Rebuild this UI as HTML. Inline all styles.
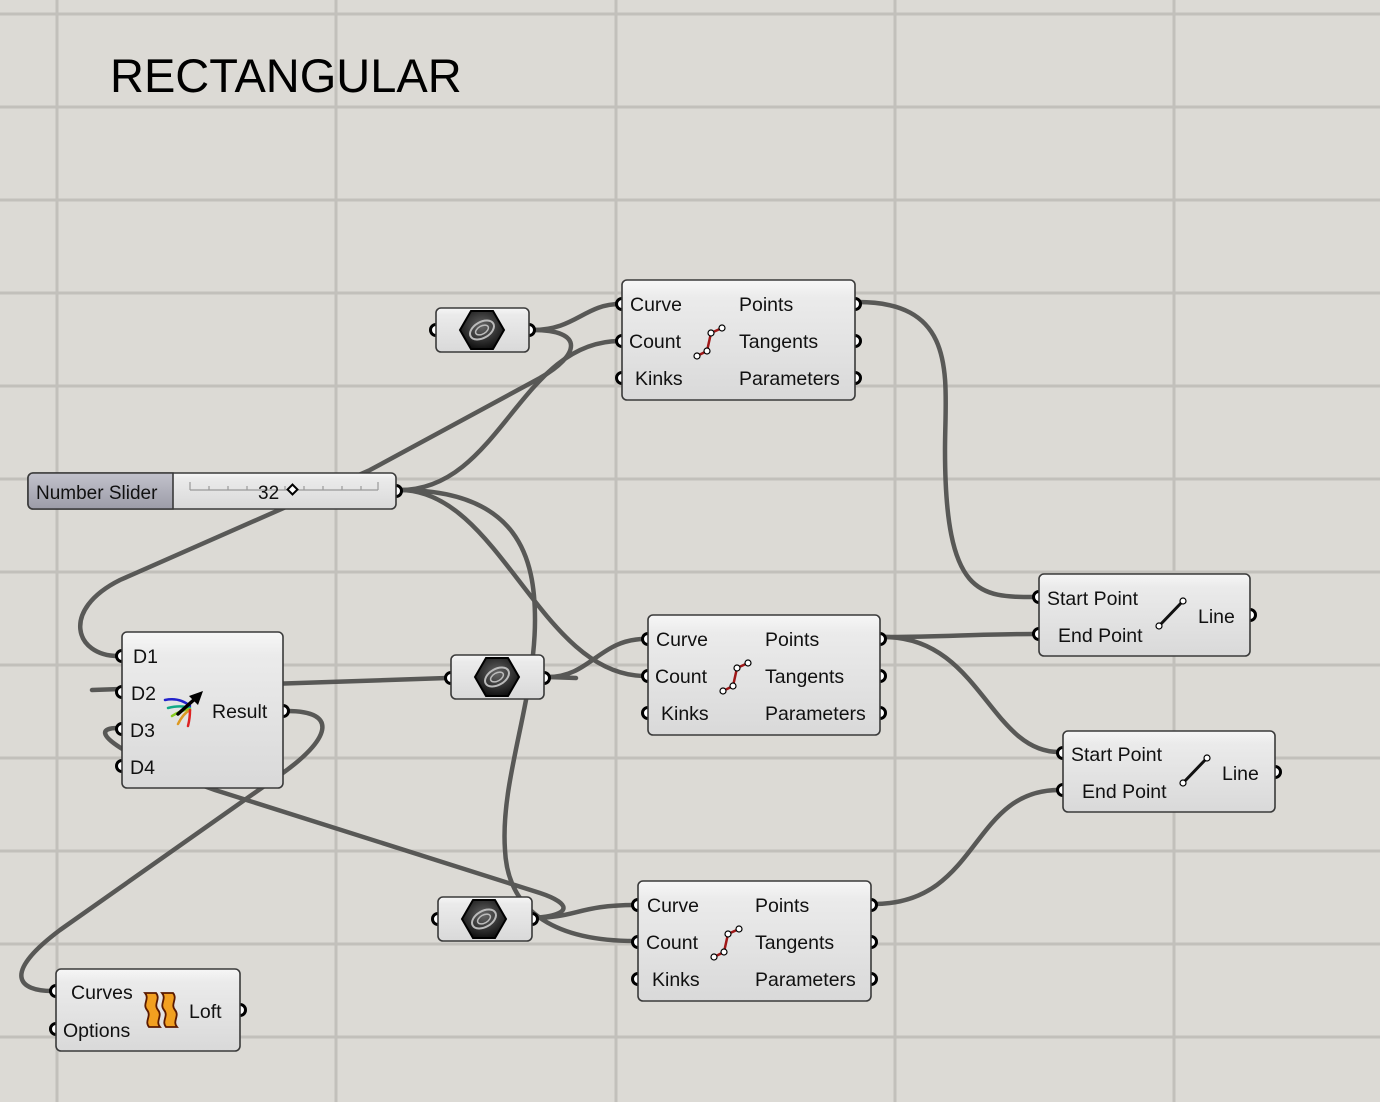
<!DOCTYPE html>
<html><head><meta charset="utf-8"><style>
html,body{margin:0;padding:0;background:#dcdad5;}
svg{display:block;font-family:"Liberation Sans",Arial,sans-serif;}
</style></head><body>
<svg width="1380" height="1102" viewBox="0 0 1380 1102" xmlns="http://www.w3.org/2000/svg">
<defs>
<linearGradient id="cg" x1="0" y1="0" x2="0" y2="1">
<stop offset="0" stop-color="#f7f7f7"/><stop offset="0.15" stop-color="#ebebeb"/><stop offset="1" stop-color="#d9d9d9"/>
</linearGradient>
<linearGradient id="sg" x1="0" y1="0" x2="0" y2="1">
<stop offset="0" stop-color="#c2c2cc"/><stop offset="1" stop-color="#9c9ca8"/>
</linearGradient>
<radialGradient id="hx" cx="0.5" cy="0.4" r="0.6"><stop offset="0" stop-color="#666"/><stop offset="1" stop-color="#111"/></radialGradient>
<g id="hex">
<polygon points="-22,0 -11,-19 11,-19 22,0 11,19 -11,19" fill="url(#hx)" stroke="#000" stroke-width="2"/>
<ellipse cx="0" cy="0" rx="13" ry="8" fill="none" stroke="#bbb" stroke-width="2" transform="rotate(-30)"/>
<ellipse cx="0" cy="0" rx="7" ry="4" fill="none" stroke="#bbb" stroke-width="1.5" transform="rotate(-30)"/>
</g>
</defs>
<rect width="1380" height="1102" fill="#dcdad5"/>
<g stroke="#c2c0bb" stroke-width="3">
<line x1="57" y1="0" x2="57" y2="1102"/><line x1="336" y1="0" x2="336" y2="1102"/><line x1="616" y1="0" x2="616" y2="1102"/><line x1="895" y1="0" x2="895" y2="1102"/><line x1="1174" y1="0" x2="1174" y2="1102"/>
<line x1="0" y1="14" x2="1380" y2="14"/><line x1="0" y1="107" x2="1380" y2="107"/><line x1="0" y1="200" x2="1380" y2="200"/><line x1="0" y1="293" x2="1380" y2="293"/><line x1="0" y1="386" x2="1380" y2="386"/><line x1="0" y1="479" x2="1380" y2="479"/><line x1="0" y1="572" x2="1380" y2="572"/><line x1="0" y1="665" x2="1380" y2="665"/><line x1="0" y1="758" x2="1380" y2="758"/><line x1="0" y1="851" x2="1380" y2="851"/><line x1="0" y1="944" x2="1380" y2="944"/><line x1="0" y1="1037" x2="1380" y2="1037"/>
</g>
<text x="110" y="92" font-size="47" fill="#000">RECTANGULAR</text>

<g fill="none" stroke="#4f4f4d" stroke-width="4.5" stroke-linecap="round" opacity="0.93">
<path d="M533,330 C575,330 585,304 620,304"/>
<path d="M400,490 C500,490 520,341 620,341"/>
<path d="M533,330 C585,330 580,355 540,378 L370,470 L120,580 C60,610 75,656 118,656"/>
<path d="M400,490 C500,490 540,676 645,676"/>
<path d="M400,490 C520,490 535,560 535,620 C535,700 500,780 505,850 C508,915 560,941 635,941"/>
<path d="M533,918 C575,918 580,905 635,905"/>
<path d="M533,918 C575,915 570,903 540,893 L215,790 C130,760 80,728 118,728"/>
<path d="M858,302 C960,302 945,380 945,450 C945,597 980,597 1035,597"/>
<path d="M884,637 C940,637 980,634 1035,634"/>
<path d="M884,637 C980,637 990,752 1059,752"/>
<path d="M874,904 C980,904 970,790 1059,790"/>
<path d="M92,690 L447,678"/>
<path d="M287,711 C340,711 330,740 280,775 L60,930 C0,975 20,991 52,991"/>
<path d="M548,677 C590,677 600,639 645,639"/>
<path d="M548,677 L576,678"/>
</g>

<g fill="#fff" stroke="#000" stroke-width="3">
<circle cx="436" cy="330" r="5.5"/><circle cx="529" cy="330" r="5.5"/>
<circle cx="451" cy="678" r="5.5"/><circle cx="544" cy="678" r="5.5"/>
<circle cx="438" cy="919" r="5.5"/><circle cx="532" cy="919" r="5.5"/>
<circle cx="396" cy="491" r="5.5"/>
<circle cx="622" cy="304" r="5.5"/><circle cx="622" cy="341" r="5.5"/><circle cx="622" cy="378" r="5.5"/>
<circle cx="855" cy="304" r="5.5"/><circle cx="855" cy="341" r="5.5"/><circle cx="855" cy="378" r="5.5"/>
<circle cx="648" cy="639" r="5.5"/><circle cx="648" cy="676" r="5.5"/><circle cx="648" cy="713" r="5.5"/>
<circle cx="880" cy="639" r="5.5"/><circle cx="880" cy="676" r="5.5"/><circle cx="880" cy="713" r="5.5"/>
<circle cx="638" cy="905" r="5.5"/><circle cx="638" cy="942" r="5.5"/><circle cx="638" cy="979" r="5.5"/>
<circle cx="871" cy="905" r="5.5"/><circle cx="871" cy="942" r="5.5"/><circle cx="871" cy="979" r="5.5"/>
<circle cx="1039" cy="597" r="5.5"/><circle cx="1039" cy="634" r="5.5"/><circle cx="1250" cy="615" r="5.5"/>
<circle cx="1063" cy="753" r="5.5"/><circle cx="1063" cy="790" r="5.5"/><circle cx="1275" cy="772" r="5.5"/>
<circle cx="122" cy="656" r="5.5"/><circle cx="122" cy="692" r="5.5"/><circle cx="122" cy="729" r="5.5"/><circle cx="122" cy="766" r="5.5"/><circle cx="283" cy="711" r="5.5"/>
<circle cx="56" cy="991" r="5.5"/><circle cx="56" cy="1029" r="5.5"/><circle cx="240" cy="1010" r="5.5"/>
</g>

<g stroke="#3a3a3a" stroke-width="1.6" fill="url(#cg)">
<rect x="436" y="308" width="93" height="44" rx="5"/>
<rect x="451" y="655" width="93" height="44" rx="5"/>
<rect x="438" y="897" width="94" height="44" rx="5"/>
<rect x="622" y="280" width="233" height="120" rx="5"/>
<rect x="648" y="615" width="232" height="120" rx="5"/>
<rect x="638" y="881" width="233" height="120" rx="5"/>
<rect x="1039" y="574" width="211" height="82" rx="5"/>
<rect x="1063" y="731" width="212" height="81" rx="5"/>
<rect x="122" y="632" width="161" height="156" rx="5"/>
<rect x="56" y="969" width="184" height="82" rx="5"/>
<rect x="28" y="473" width="368" height="36" rx="5"/>
</g>
<path d="M33,473 H173 V509 H33 A5,5 0 0 1 28,504 V478 A5,5 0 0 1 33,473 Z" fill="url(#sg)" stroke="#3a3a3a" stroke-width="1.6"/>
<text x="36" y="499" font-size="19" fill="#111">Number Slider</text>
<g stroke="#999" stroke-width="1.2"><line x1="190" y1="490" x2="378" y2="490"/>
<line x1="190" y1="482" x2="190" y2="490"/><line x1="209" y1="486" x2="209" y2="490"/><line x1="228" y1="486" x2="228" y2="490"/><line x1="247" y1="486" x2="247" y2="490"/><line x1="266" y1="486" x2="266" y2="490"/><line x1="285" y1="486" x2="285" y2="490"/><line x1="304" y1="486" x2="304" y2="490"/><line x1="323" y1="486" x2="323" y2="490"/><line x1="342" y1="486" x2="342" y2="490"/><line x1="361" y1="486" x2="361" y2="490"/><line x1="378" y1="482" x2="378" y2="490"/></g>
<text x="258" y="499" font-size="19" fill="#111">32</text>
<rect x="289" y="486" width="7" height="7" transform="rotate(45 292.5 489.5)" fill="#fff" stroke="#000" stroke-width="2"/>

<use href="#hex" x="482" y="330"/>
<use href="#hex" x="497" y="677"/>
<use href="#hex" x="484" y="919"/>

<g font-size="19.5" fill="#111">
<text x="630" y="311">Curve</text><text x="629" y="348">Count</text><text x="635" y="385">Kinks</text>
<text x="739" y="311">Points</text><text x="739" y="348">Tangents</text><text x="739" y="385">Parameters</text>
<text x="656" y="646">Curve</text><text x="655" y="683">Count</text><text x="661" y="720">Kinks</text>
<text x="765" y="646">Points</text><text x="765" y="683">Tangents</text><text x="765" y="720">Parameters</text>
<text x="647" y="912">Curve</text><text x="646" y="949">Count</text><text x="652" y="986">Kinks</text>
<text x="755" y="912">Points</text><text x="755" y="949">Tangents</text><text x="755" y="986">Parameters</text>
<text x="1047" y="605">Start Point</text><text x="1058" y="642">End Point</text><text x="1198" y="623">Line</text>
<text x="1071" y="761">Start Point</text><text x="1082" y="798">End Point</text><text x="1222" y="780">Line</text>
<text x="133" y="663">D1</text><text x="131" y="700">D2</text><text x="130" y="737">D3</text><text x="130" y="774">D4</text>
<text x="212" y="718">Result</text>
<text x="71" y="999">Curves</text><text x="63" y="1037">Options</text><text x="189" y="1018">Loft</text>
</g>
<g fill="none" stroke="#a01818" stroke-width="2.5">
<path d="M697,356 L707,351 L711,333 L722,328"/>
<path d="M723,691 L733,686 L737,668 L748,663"/>
<path d="M714,957 L724,952 L728,934 L739,929"/>
</g>
<g fill="#fff" stroke="#000" stroke-width="1.2">
<circle cx="697" cy="356" r="3"/><circle cx="707" cy="351" r="3"/><circle cx="711" cy="333" r="3"/><circle cx="722" cy="328" r="3"/>
<circle cx="723" cy="691" r="3"/><circle cx="733" cy="686" r="3"/><circle cx="737" cy="668" r="3"/><circle cx="748" cy="663" r="3"/>
<circle cx="714" cy="957" r="3"/><circle cx="724" cy="952" r="3"/><circle cx="728" cy="934" r="3"/><circle cx="739" cy="929" r="3"/>
</g>
<g stroke="#111" stroke-width="3"><line x1="1159" y1="626" x2="1183" y2="601"/><line x1="1183" y1="783" x2="1207" y2="758"/></g>
<g fill="#fff" stroke="#000" stroke-width="1.2"><circle cx="1159" cy="626" r="3"/><circle cx="1183" cy="601" r="3"/><circle cx="1183" cy="783" r="3"/><circle cx="1207" cy="758" r="3"/></g>
<g fill="none" stroke-width="2.5" stroke-linecap="round">
<path d="M165,700 C175,698 183,700 190,706" stroke="#22c"/>
<path d="M168,708 C176,706 184,706 190,708" stroke="#1a8"/>
<path d="M172,716 C178,712 184,710 190,709" stroke="#8c2"/>
<path d="M178,724 C182,716 186,712 190,710" stroke="#d92"/>
<path d="M188,726 C190,718 190,714 190,710" stroke="#d22"/>
<path d="M178,714 L197,697" stroke="#000" stroke-width="3.5"/>
</g>
<polygon points="203,691 189,696 198,705" fill="#000"/>
<g stroke="#5a1a00" stroke-width="1.8" fill="#f2a020">
<path d="M145,993 C150,999 142,1004 147,1010 C152,1016 144,1021 149,1027 L160,1027 C155,1021 163,1016 158,1010 C153,1004 161,999 156,993 Z"/>
<path d="M162,993 C167,999 159,1004 164,1010 C169,1016 161,1021 166,1027 L177,1027 C172,1021 180,1016 175,1010 C170,1004 178,999 173,993 Z"/>
</g>
</svg>
</body></html>
